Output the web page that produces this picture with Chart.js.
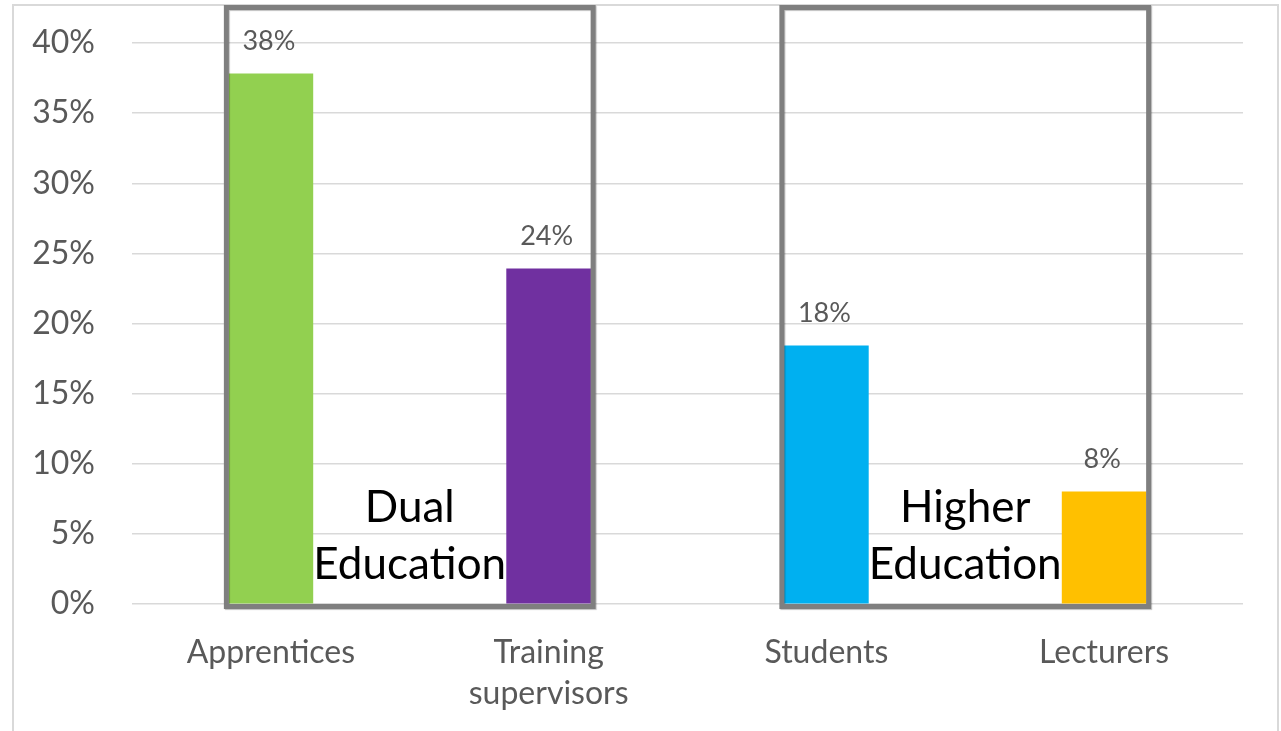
<!DOCTYPE html>
<html>
<head>
<meta charset="utf-8">
<script src="https://cdn.jsdelivr.net/npm/chart.js@4.4.1/dist/chart.umd.min.js"></script>
<style>
  html, body { margin: 0; padding: 0; background: #fff; }
  #wrap { width: 1281px; height: 731px; position: relative; }
</style>
</head>
<body>
<div id="wrap"><canvas id="chart"></canvas></div>
<script>
// ======== Data ========
const categories = ['Apprentices', ['Training', 'supervisors'], 'Students', 'Lecturers'];
const shares = [37.8, 23.9, 18.4, 8.0];
const shareLabels = ['38%', '24%', '18%', '8%'];
const barColors = ['#92d050', '#7030a0', '#00b0f0', '#ffc000'];
const groupNames = [['Dual', 'Education'], ['Higher', 'Education']];
const groupMembers = [[0, 1], [2, 3]];
const yTicks = [0, 5, 10, 15, 20, 25, 30, 35, 40];

const FONT = 'Lato, "Open Sans", sans-serif';

// ======== Plugins ========
const frame = {
  id: 'frame',
  beforeDraw(c) {
    const g = c.ctx;
    g.save();
    g.fillStyle = '#fff';
    g.fillRect(0, 0, c.width, c.height);
    g.strokeStyle = '#d9d9d9';
    g.lineWidth = 2;
    g.beginPath();
    g.moveTo(13, c.height + 5);
    g.lineTo(13, 5);
    g.lineTo(1278, 5);
    g.lineTo(1278, c.height + 5);
    g.stroke();
    g.restore();
  }
};

const valueLabels = {
  id: 'valueLabels',
  afterDatasetsDraw(c) {
    const g = c.ctx;
    const meta = c.getDatasetMeta(0);
    g.save();
    g.font = '27px ' + FONT;
    g.fillStyle = '#595959';
    g.textAlign = 'center';
    g.textBaseline = 'middle';
    meta.data.forEach((bar, i) => {
      g.fillText(shareLabels[i], bar.x - 2, bar.y - 33);
    });
    g.restore();
  }
};

const groupBoxes = {
  id: 'groupBoxes',
  afterDraw(c) {
    const g = c.ctx;
    const meta = c.getDatasetMeta(0);
    const base = c.scales.y.getPixelForValue(0);
    g.save();
    groupMembers.forEach((idx, k) => {
      const a = meta.data[idx[0]], b = meta.data[idx[idx.length - 1]];
      const left = a.x - a.width / 2 - 2.5;
      const right = b.x + b.width / 2 + 2.5;
      const top = 7.5, bottom = base + 2.5;
      g.shadowColor = 'rgba(0,0,0,0.25)';
      g.shadowOffsetX = 1;
      g.shadowOffsetY = 1;
      g.shadowBlur = 1;
      g.strokeStyle = '#7f7f7f';
      g.lineWidth = 5;
      g.strokeRect(left, top, right - left, bottom - top);
      g.shadowColor = 'transparent';
      const cx = (left + right) / 2;
      g.font = '44px ' + FONT;
      g.fillStyle = '#000';
      g.textAlign = 'center';
      g.textBaseline = 'middle';
      g.fillText(groupNames[k][0], cx, base - 96);
      g.fillText(groupNames[k][1], cx, base - 39);
    });
    g.restore();
  }
};

// ======== Chart ========
const ctx = document.getElementById('chart').getContext('2d');
const chart = new Chart(ctx, {
  type: 'bar',
  data: {
    labels: categories,
    datasets: [{
      data: shares,
      backgroundColor: barColors,
      borderWidth: 0,
      barThickness: 84
    }]
  },
  options: {
    responsive: true,
    maintainAspectRatio: false,
    animation: false,
    layout: { padding: { top: 43, right: 38, left: 0, bottom: 0 } },
    plugins: {
      legend: { display: false },
      tooltip: { enabled: false }
    },
    scales: {
      x: {
        grid: { display: false },
        border: { display: false },
        ticks: {
          color: '#595959',
          font: { family: FONT, size: 32, lineHeight: 1.28 },
          padding: 20,
          maxRotation: 0,
          autoSkip: false
        },
        afterFit(s) { s.height = 127; }
      },
      y: {
        min: 0,
        max: 40,
        afterBuildTicks(s) { s.ticks = yTicks.map(v => ({ value: v })); },
        // gap between labels and plot made with invisible tick marks
        grid: { color: '#d9d9d9', lineWidth: 1.5, drawTicks: true, tickLength: 37, tickColor: 'rgba(0,0,0,0)' },
        border: { display: false },
        ticks: {
          color: '#595959',
          font: { family: FONT, size: 32 },
          padding: 0,
          callback: v => v + '%'
        },
        afterFit(s) { s.width = 132; }
      }
    }
  },
  plugins: [frame, valueLabels, groupBoxes]
});
</script>
</body>
</html>
